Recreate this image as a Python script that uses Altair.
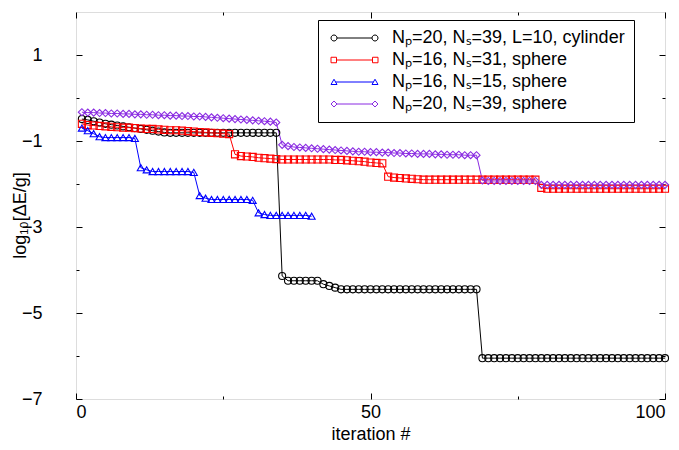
import altair as alt
import pandas as pd

# ---------------- data ----------------
names = [
    "Nₚ=20, Nₛ=39, L=10, cylinder",
    "Nₚ=16, Nₛ=31, sphere",
    "Nₚ=16, Nₛ=15, sphere",
    "Nₚ=20, Nₛ=39, sphere",
]
colors = ["#000000", "#ff0000", "#0000ff", "#8a2be2"]
marker_shapes = ["circle", "square", "triangle-up", "diamond"]

cyl_np20_ns39 = (
    [-0.49, -0.51, -0.54, -0.57, -0.60, -0.62, -0.64, -0.66, -0.68, -0.70,
     -0.72, -0.74, -0.76, -0.78, -0.80]
    + [-0.81] * 19
    + [-4.14]
    + [-4.25] * 6
    + [-4.33, -4.37, -4.41]
    + [-4.45] * 24
    + [-6.05] * 32
)

sph_np16_ns31 = (
    [-0.60, -0.63, -0.64, -0.65, -0.66, -0.67, -0.68, -0.69, -0.69, -0.70,
     -0.71, -0.72, -0.72, -0.73, -0.74, -0.75, -0.75, -0.76, -0.77, -0.78,
     -0.79, -0.80, -0.81, -0.82, -0.83, -0.84]
    + [-1.31, -1.35, -1.36, -1.37, -1.39, -1.40, -1.41, -1.42]
    + [-1.43] * 9
    + [-1.44, -1.44, -1.45, -1.46, -1.47, -1.48, -1.50, -1.51, -1.52]
    + [-1.83, -1.85, -1.86, -1.87, -1.88, -1.89]
    + [-1.90] * 20
    + [-2.09]
    + [-2.11] * 21
)

sph_np16_ns15 = [
    -0.70, -0.76, -0.83, -0.90, -0.92, -0.92, -0.92, -0.92, -0.92, -0.94,
    -1.62, -1.67, -1.71, -1.71, -1.71, -1.71, -1.71, -1.71, -1.71, -1.73,
    -2.27, -2.33, -2.36, -2.36, -2.36, -2.36, -2.36, -2.36, -2.36, -2.38,
    -2.67, -2.71, -2.73, -2.73, -2.73, -2.73, -2.73, -2.73, -2.73, -2.75,
]

sph_np20_ns39 = (
    [-0.33, -0.34, -0.34, -0.35, -0.35, -0.36, -0.36, -0.37, -0.37, -0.38,
     -0.38, -0.39, -0.39, -0.40, -0.40, -0.41, -0.41, -0.42, -0.42, -0.43,
     -0.43, -0.44, -0.45, -0.46, -0.47, -0.48, -0.49, -0.50, -0.51, -0.52,
     -0.53, -0.54, -0.55, -0.57]
    + [-1.09, -1.12, -1.14, -1.15, -1.16, -1.17, -1.18, -1.19, -1.20, -1.21,
       -1.22, -1.23, -1.24, -1.25, -1.25, -1.26, -1.26, -1.27, -1.27, -1.28,
       -1.28, -1.29, -1.29, -1.30, -1.30, -1.30, -1.31, -1.31, -1.32, -1.32,
       -1.32, -1.33, -1.33, -1.33]
    + [-1.92] + [-1.93] * 9
    + [-2.02] * 22
)

series_values = [cyl_np20_ns39, sph_np16_ns31, sph_np16_ns15, sph_np20_ns39]

y_major = [-7, -5, -3, -1, 1]
y_minor = [-6, -4, -2, 0]
x_major = [0, 50, 100]
x_minor = [25, 75]

# legend symbols: marker - line - marker (unit coords, scaled by sqrt(size)/2)
legend_paths = [
    "M-1,0A0.6,0.6,0,1,1,0.2,0A0.6,0.6,0,1,1,-1,0Z M0.2,0L7.2,0 M7.2,0A0.6,0.6,0,1,1,8.4,0A0.6,0.6,0,1,1,7.2,0Z",
    "M-1,-0.55L0.1,-0.55L0.1,0.55L-1,0.55Z M0.1,0L7.3,0 M7.3,-0.55L8.4,-0.55L8.4,0.55L7.3,0.55Z",
    "M-1,0.5L-0.4,-0.55L0.2,0.5Z M-0.1,0L7.5,0 M7.2,0.5L7.8,-0.55L8.4,0.5Z",
    "M-1,0L-0.4,-0.6L0.2,0L-0.4,0.6Z M0.2,0L7.2,0 M7.2,0L7.8,-0.6L8.4,0L7.8,0.6Z",
]

rows = []
for name, vals in zip(names, series_values):
    for i, v in enumerate(vals):
        rows.append({"series": name, "iter": i + 1, "val": v})
df = pd.DataFrame(rows)

FONT = "Liberation Sans"
FS = 18

xscale = alt.Scale(domain=[0, 100], nice=False, zero=False)
yscale = alt.Scale(domain=[-7, 2], nice=False, zero=False)
cscale = alt.Scale(domain=names, range=colors)


def axis(orient, values, size, labels=False, title=None, pad=0, **extra):
    kw = dict(
        orient=orient, values=values, tickSize={"expr": str(-size)},
        domain=False, grid=False, labels=labels, tickColor="black",
        tickWidth=1, title=title,
    )
    if labels:
        kw.update(labelFont=FONT, labelFontSize=FS, labelColor="black",
                  labelPadding=pad, titleFont=FONT, titleFontSize=FS,
                  titleFontWeight="normal", titleColor="black")
    kw.update(extra)
    return alt.Axis(**kw)


base = alt.Chart(df)

leg = alt.Legend(
    orient="none", legendX=242, legendY=8, title=None,
    symbolSize=100, symbolStrokeWidth=1, labelFont=FONT, labelFontSize=FS,
    labelColor="black", labelOffset=47, labelLimit=0, padding=9,
    strokeColor="black", fillColor="white", rowPadding=4,
)

legend_layer = base.transform_filter("false").mark_point(
    filled=False, size=100, strokeWidth=1, opacity=1
).encode(
    color=alt.Color("series:N", scale=cscale, legend=leg),
    shape=alt.Shape("series:N", scale=alt.Scale(domain=names, range=legend_paths),
                    legend=leg),
)

lines = base.mark_line(strokeWidth=1, clip=True).encode(
    x=alt.X("iter:Q", scale=xscale,
            axis=axis("bottom", x_major, 6, True, "iteration #", 10)),
    y=alt.Y("val:Q", scale=yscale,
            axis=axis("left", y_major, 6, True, "log₁₀[ΔE/g]", 40,
                      titleX=-56, titleY=203, titleAngle=270,
                      titleAlign="center", titleBaseline="middle")),
    color=alt.Color("series:N", scale=cscale),
    detail="series:N",
)

axis_sets = [
    (axis("top", x_major, 6), axis("right", y_major, 6)),
    (axis("bottom", x_minor, 3), axis("left", y_minor, 3)),
    (axis("top", x_minor, 3), axis("right", y_minor, 3)),
    (None, None),
]

point_layers = []
for name, shp, (ax_x, ax_y) in zip(names, marker_shapes, axis_sets):
    point_layers.append(
        base.transform_filter(alt.datum.series == name)
        .mark_point(shape=shp, filled=False, size=50, strokeWidth=1.1, opacity=1)
        .encode(
            x=alt.X("iter:Q", scale=xscale, axis=ax_x),
            y=alt.Y("val:Q", scale=yscale, axis=ax_y),
            color=alt.Color("series:N", scale=cscale),
        )
    )

chart = (
    alt.layer(legend_layer, lines, *point_layers)
    .resolve_axis(x="independent", y="independent")
    .properties(
        width=589, height=387,
        autosize=alt.AutoSizeParams(type="none"),
        padding={"left": 76, "top": 12, "right": 14, "bottom": 51},
        background="white",
    )
    .configure_view(stroke="black", strokeWidth=1)
    .configure(font=FONT)
)

chart.save("out.html", embed_options={"renderer": "svg", "actions": False})
